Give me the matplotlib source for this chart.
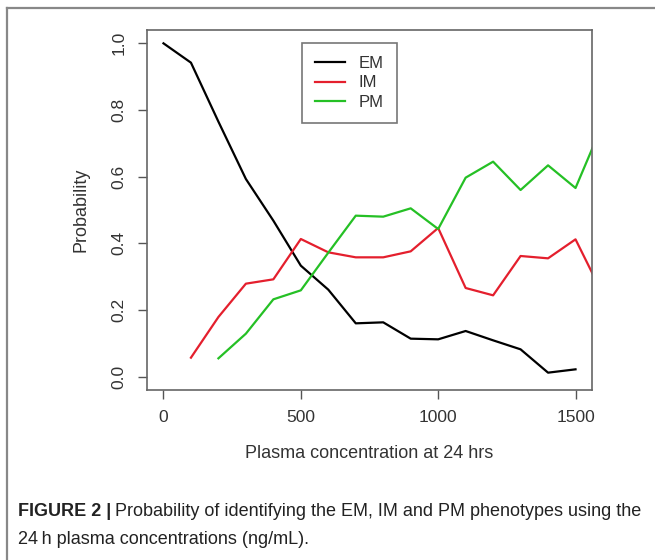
import matplotlib.pyplot as plt
from matplotlib.lines import Line2D
import numpy as np

# plasma concentration grid (ng/mL) and phenotype probabilities
conc_em = [0, 100, 200, 300, 400, 500, 600, 700, 800, 900, 1000, 1100, 1200, 1300, 1400, 1500]
prob_em = [1.0, 0.942, 0.765, 0.593, 0.468, 0.333, 0.261, 0.160, 0.163, 0.114, 0.112, 0.137,
           0.109, 0.082, 0.012, 0.022]

conc_im = [100, 200, 300, 400, 500, 600, 700, 800, 900, 1000, 1100, 1200, 1300, 1400, 1500, 1600]
prob_im = [0.057, 0.179, 0.279, 0.292, 0.413, 0.373, 0.358, 0.358, 0.376, 0.446, 0.266,
           0.244, 0.362, 0.355, 0.412, 0.246]

conc_pm = [200, 300, 400, 500, 600, 700, 800, 900, 1000, 1100, 1200, 1300, 1400, 1500, 1600]
prob_pm = [0.055, 0.129, 0.232, 0.259, 0.372, 0.483, 0.480, 0.505, 0.443, 0.597, 0.645,
           0.560, 0.634, 0.566, 0.760]

x_ticks = [0, 500, 1000, 1500]
y_ticks = [0.0, 0.2, 0.4, 0.6, 0.8, 1.0]

plt.rcParams['font.family'] = ['Liberation Sans', 'DejaVu Sans']

fig = plt.figure(figsize=(6.55, 5.6), dpi=100)
ax = fig.add_axes([147 / 655, 1 - 390 / 560, 445 / 655, 360 / 560])

ax.plot(conc_em, prob_em, color='black', lw=1.6, label='EM')
ax.plot(conc_im, prob_im, color='#e41f2d', lw=1.6, label='IM')
ax.plot(conc_pm, prob_pm, color='#25c025', lw=1.6, label='PM')

# R-style 4% padding around 0..1500 and 0..1
ax.set_xlim(-60, 1560)
ax.set_ylim(-0.04, 1.04)

ax.set_xticks(x_ticks)
ax.set_xticklabels([str(v) for v in x_ticks])
ax.set_yticks(y_ticks)
ax.set_yticklabels(['%.1f' % v for v in y_ticks], rotation=90, va='center')
ax.tick_params(direction='out', length=6.5, width=1, color='#555555',
               labelsize=12.5, labelcolor='#333333', pad=8)

for s in ax.spines.values():
    s.set_color('#666666')
    s.set_linewidth(1.2)

ax.set_xlabel('Plasma concentration at 24 hrs', fontsize=13, color='#333333', labelpad=14)
ax.set_ylabel('Probability', fontsize=13, color='#333333', labelpad=16)

leg = ax.legend(loc='upper left', bbox_to_anchor=(0.348, 0.964), fontsize=12,
                frameon=True, fancybox=False, handlelength=1.8, handletextpad=0.8,
                labelspacing=0.25, borderpad=0.8, borderaxespad=0)
leg.get_frame().set_edgecolor('#555555')
leg.get_frame().set_linewidth(1.2)
for t in leg.get_texts():
    t.set_color('#333333')

# outer frame of the figure panel (left and top edges)
fig.add_artist(Line2D([7 / 655, 7 / 655], [0, 1 - 8 / 560], transform=fig.transFigure,
                      color='#888888', lw=1.6))
fig.add_artist(Line2D([7 / 655, 1], [1 - 8 / 560, 1 - 8 / 560], transform=fig.transFigure,
                      color='#888888', lw=1.6))

# caption: bold lead-in, then the rest of the first line right after it
lead = fig.text(18 / 655, 1 - 511 / 560, 'FIGURE 2 |', fontsize=13, fontweight='bold',
                va='center', color='#222222')
fig.canvas.draw()
bb = lead.get_window_extent()
fig.text((bb.x1 + 4) / 655, 1 - 511 / 560,
         'Probability of identifying the EM, IM and PM phenotypes using the',
         fontsize=13, va='center', color='#222222')
fig.text(18 / 655, 1 - 540 / 560, '24\u2009h plasma concentrations (ng/mL).',
         fontsize=13, va='center', color='#222222')

fig.savefig('out.png', dpi=100)
